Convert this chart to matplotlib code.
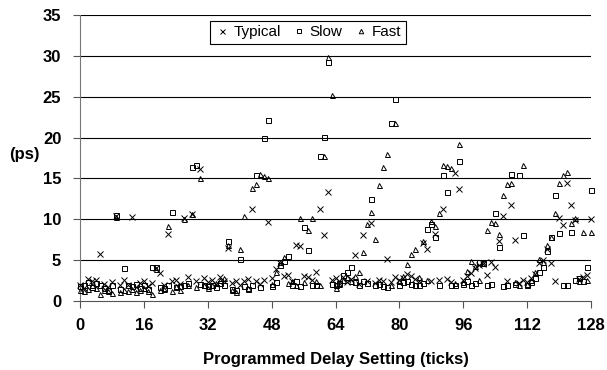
import matplotlib
matplotlib.use("Agg")
import matplotlib.pyplot as plt

plt.rcParams['font.family'] = ['Liberation Sans', 'DejaVu Sans']

# delay settings 0..128
ticks = list(range(129))

typical = [2.0, 1.6, 2.7, 2.4, 2.6, 5.8, 2.1, 1.7, 2.3, 10.4,
           1.9, 2.6, 2.0, 10.3, 1.7, 2.2, 2.5, 1.8, 2.2, 4.0,
           3.4, 2.0, 8.2, 2.4, 2.6, 2.1, 10.1, 2.9, 10.6, 2.5,
           16.1, 2.8, 2.3, 2.6, 2.1, 2.9, 2.4, 6.5, 2.2, 2.5,
           2.0, 2.4, 2.7, 11.2, 2.4, 2.1, 2.6, 9.7, 2.8, 3.9,
           4.6, 3.0, 3.2, 2.5, 6.8, 6.7, 3.0, 2.9, 2.6, 3.5,
           11.2, 8.1, 13.4, 2.6, 2.8, 2.4, 2.9, 2.3, 2.7, 5.6,
           2.1, 8.1, 2.5, 9.6, 2.2, 2.6, 2.4, 5.2, 2.3, 2.9,
           2.6, 2.8, 3.3, 3.0, 2.7, 2.5, 7.1, 6.4, 2.4, 8.2,
           2.6, 11.2, 2.7, 2.3, 15.7, 13.7, 2.6, 3.1, 3.4, 4.0,
           4.4, 4.5, 3.2, 4.8, 4.1, 7.4, 10.4, 2.4, 11.8, 7.5,
           2.2, 2.6, 2.3, 2.8, 3.3, 4.6, 5.0, 6.4, 4.6, 2.5,
           10.1, 9.3, 14.4, 11.8, 9.9, 2.7, 2.9, 3.2, 10.0]

slow = [1.8, 2.0, 2.3, 1.7, 2.2, 1.9, 1.6, 1.4, 1.9, 10.5,
        1.5, 4.0, 2.0, 1.8, 2.1, 1.6, 1.9, 1.5, 4.1, 4.1,
        1.7, 1.6, 1.9, 10.9, 1.7, 1.8, 2.0, 2.2, 16.4, 16.6,
        2.1, 1.9, 1.8, 2.0, 1.7, 2.2, 2.0, 7.3, 1.5, 1.4,
        5.2, 1.8, 1.5, 2.0, 15.4, 1.7, 19.9, 22.1, 1.8, 2.3,
        4.4, 4.9, 5.5, 1.9, 2.4, 1.8, 9.1, 6.2, 2.0, 1.9,
        17.7, 20.1, 29.3, 2.1, 1.9, 2.2, 3.2, 3.6, 4.1, 2.3,
        2.0, 2.4, 2.2, 12.5, 2.0, 2.1, 1.8, 1.7, 21.8, 24.7,
        2.0, 2.3, 2.4, 2.1, 1.9, 2.0, 2.2, 8.8, 9.4, 7.8,
        2.0, 15.4, 13.3, 2.0, 1.9, 17.1, 2.1, 2.4, 2.0, 2.2,
        4.8, 4.7, 2.0, 2.1, 10.8, 6.6, 1.8, 2.0, 15.6, 2.1,
        15.4, 8.1, 1.9, 2.3, 2.8, 3.5, 4.2, 6.1, 7.8, 13.0,
        8.3, 1.9, 2.0, 8.5, 2.6, 2.8, 2.4, 4.2, 13.6]

fast = [1.4, 1.2, 1.5, 1.9, 1.6, 0.9, 1.3, 1.2, 1.0, 10.3,
        1.1, 1.3, 1.2, 1.5, 1.1, 1.4, 1.6, 1.2, 0.9, 3.9,
        1.4, 1.5, 9.2, 1.2, 1.8, 1.4, 10.0, 1.9, 10.7, 1.7,
        15.0, 2.0, 1.6, 1.9, 2.2, 2.6, 2.8, 6.8, 1.3, 1.1,
        6.4, 10.4, 1.6, 13.8, 14.3, 15.5, 15.3, 15.1, 2.1, 3.6,
        4.8, 5.4, 2.2, 2.4, 2.0, 10.2, 2.3, 8.7, 10.2, 2.4,
        2.0, 17.8, 29.9, 25.2, 1.6, 2.1, 2.6, 2.9, 2.5, 3.0,
        3.6, 6.0, 9.4, 10.9, 7.6, 14.2, 16.4, 18.0, 1.9, 21.8,
        2.4, 3.0, 4.5, 5.75, 6.4, 2.9, 7.4, 2.6, 9.8, 9.2,
        10.8, 16.6, 16.5, 16.3, 2.2, 19.2, 2.3, 3.7, 4.9, 4.3,
        2.6, 4.6, 8.7, 9.7, 9.5, 8.2, 13.0, 14.3, 14.5, 2.3,
        2.0, 16.6, 2.1, 2.6, 3.6, 5.1, 4.8, 6.9, 7.8, 10.8,
        14.4, 15.4, 15.8, 9.5, 10.1, 2.5, 8.4, 2.6, 8.5]

xtick_vals = [0, 16, 32, 48, 64, 80, 96, 112, 128]
ytick_vals = [0, 5, 10, 15, 20, 25, 30, 35]

fig = plt.figure(figsize=(6.07, 3.70), dpi=100)
ax = fig.add_axes([80 / 607, 69 / 370, 511 / 607, 286 / 370])

for y in ytick_vals[1:]:
    ax.axhline(y, color='black', lw=0.8, zorder=1)

ax.plot(ticks, typical, linestyle='none', marker='x', ms=4, mew=0.7,
        color='black', label='Typical', clip_on=False, zorder=3)
ax.plot(ticks, slow, linestyle='none', marker='s', ms=3.6, mew=0.7,
        mfc='none', mec='black', label='Slow', clip_on=False, zorder=3)
ax.plot(ticks, fast, linestyle='none', marker='^', ms=3.6, mew=0.7,
        mfc='none', mec='black', label='Fast', clip_on=False, zorder=3)

ax.set_xlim(0, 128)
ax.set_ylim(0, 35)
ax.set_xticks(xtick_vals)
ax.set_yticks(ytick_vals)
ax.tick_params(axis='both', direction='out', length=5, width=0.8,
               labelsize=12, color='#555555')
ax.tick_params(axis='x', pad=7)
ax.tick_params(axis='y', pad=8.5)
for lab in ax.get_xticklabels() + ax.get_yticklabels():
    lab.set_fontweight('bold')

for side in ['top', 'right']:
    ax.spines[side].set_visible(False)
ax.spines['left'].set_color('#777777')
ax.spines['bottom'].set_color('#555555')

ax.set_xlabel('Programmed Delay Setting (ticks)', fontsize=12,
              fontweight='bold', labelpad=14)
fig.text(40 / 607, 1 - 155 / 370, '(ps)', fontsize=12, fontweight='bold',
         ha='right', va='center')

leg = ax.legend(loc='center', bbox_to_anchor=(0.446, 0.939), ncol=3,
                frameon=True, fancybox=False, fontsize=11,
                handletextpad=0.2, columnspacing=0.7, borderpad=0.3,
                handlelength=1.0, markerscale=0.9, borderaxespad=0)
leg.get_frame().set_edgecolor('black')
leg.get_frame().set_linewidth(0.8)
leg.get_frame().set_alpha(1)

fig.savefig('out.png', dpi=100)
